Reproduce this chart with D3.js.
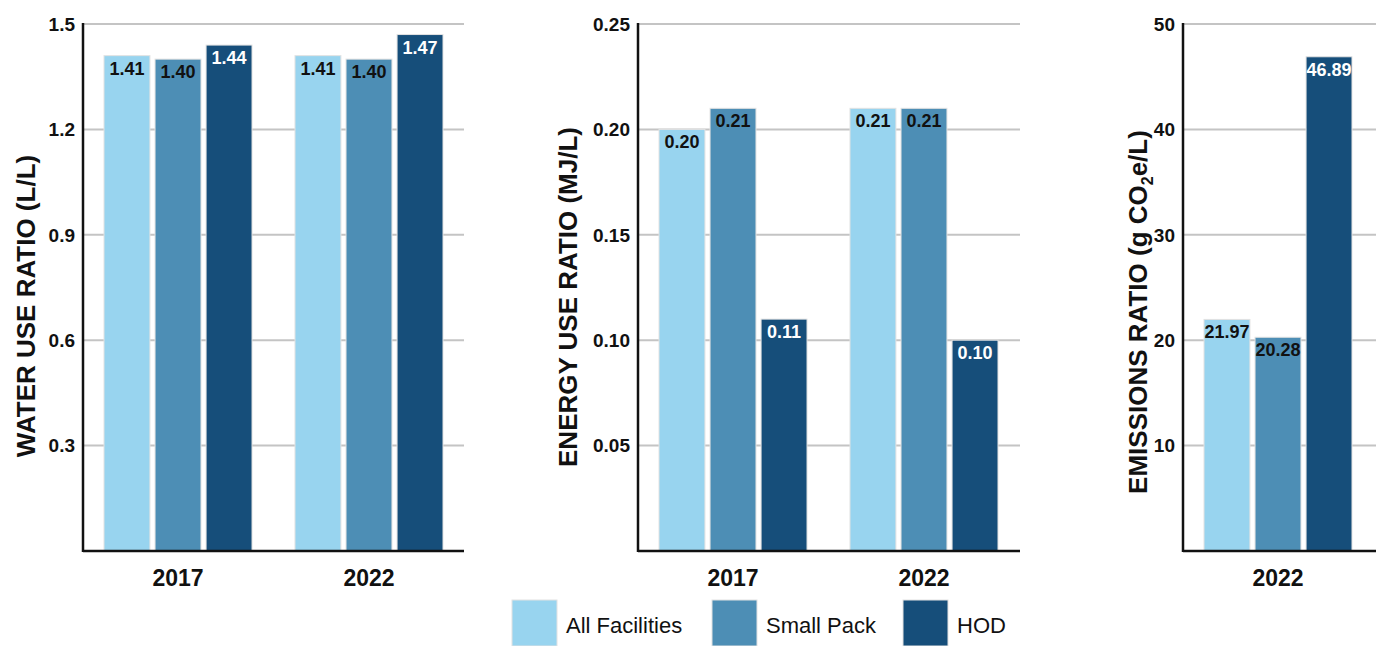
<!DOCTYPE html>
<html>
<head>
<meta charset="utf-8">
<script src="https://cdn.jsdelivr.net/npm/d3@7"></script>
<style>
  body { margin: 0; background: #fff; }
  text { font-family: "Liberation Sans", Arial, Helvetica, sans-serif; }
</style>
</head>
<body>
<svg id="chart" width="1376" height="646"></svg>
<script>
// series names + colours
const seriesNames = ['All Facilities', 'Small Pack', 'HOD'];
const seriesColors = ['#98d4ef', '#4d8eb5', '#164e7a'];
const labelColors = ['#111', '#111', '#fff'];

// water use ratio
const waterYears = ['2017', '2022'];
const water2017 = [1.41, 1.40, 1.44];
const water2022 = [1.41, 1.40, 1.47];
const waterTicks = [0.3, 0.6, 0.9, 1.2, 1.5];

// energy use ratio
const energyYears = ['2017', '2022'];
const energy2017 = [0.20, 0.21, 0.11];
const energy2022 = [0.21, 0.21, 0.10];
const energyTicks = [0.05, 0.10, 0.15, 0.20, 0.25];

// emissions ratio
const emisYears = ['2022'];
const emis2022 = [21.97, 20.28, 46.89];
const emisTicks = [10, 20, 30, 40, 50];

const svg = d3.select('#chart');
const plotTop = 24, plotBottom = 551;

function panel(opts) {
  const g = svg.append('g');
  const y = d3.scaleLinear().domain([0, opts.max]).range([plotBottom, plotTop]);
  const x0 = d3.scaleBand().domain(opts.years).range([opts.x0, opts.x1]).paddingInner(opts.padIn).paddingOuter(opts.padOut);
  const x1 = d3.scaleBand().domain(seriesNames).range([0, x0.bandwidth()]).paddingInner(0.1);

  // grid
  g.append('g').selectAll('line').data(opts.ticks).join('line')
    .attr('x1', opts.x0).attr('x2', opts.gridEnd)
    .attr('y1', d => y(d)).attr('y2', d => y(d))
    .attr('stroke', '#c4c4c4').attr('stroke-width', 2);

  // tick labels
  g.append('g').selectAll('text').data(opts.ticks).join('text')
    .attr('x', opts.x0 - 8).attr('y', d => y(d)).attr('dy', '0.36em')
    .attr('text-anchor', 'end')
    .attr('font-size', 19).attr('font-weight', 'bold').attr('fill', '#111')
    .text(d => opts.fmt(d));

  // bars
  const groups = g.append('g').selectAll('g').data(opts.years).join('g')
    .attr('transform', d => `translate(${x0(d)},0)`);
  groups.selectAll('rect').data((d, i) => opts.values[i].map((v, j) => ({ v, j })))
    .join('rect')
    .attr('x', d => x1(seriesNames[d.j]))
    .attr('width', x1.bandwidth())
    .attr('y', d => y(d.v))
    .attr('height', d => plotBottom - y(d.v))
    .attr('fill', d => seriesColors[d.j])
    .attr('stroke', '#e2e2e2').attr('stroke-width', 1);
  groups.selectAll('text').data((d, i) => opts.values[i].map((v, j) => ({ v, j })))
    .join('text')
    .attr('x', d => x1(seriesNames[d.j]) + x1.bandwidth() / 2)
    .attr('y', d => y(d.v) + 19)
    .attr('text-anchor', 'middle')
    .attr('font-size', 18).attr('font-weight', 'bold')
    .attr('fill', d => labelColors[d.j])
    .text(d => d.v.toFixed(2));

  // category labels
  g.append('g').selectAll('text').data(opts.years).join('text')
    .attr('x', d => x0(d) + x0.bandwidth() / 2).attr('y', 586)
    .attr('text-anchor', 'middle')
    .attr('font-size', 23).attr('font-weight', 'bold').attr('fill', '#111')
    .text(d => d);

  // axes lines
  g.append('line').attr('x1', opts.x0).attr('x2', opts.x0).attr('y1', plotTop - 1).attr('y2', plotBottom + 1)
    .attr('stroke', '#111').attr('stroke-width', 2.5);
  g.append('line').attr('x1', opts.x0).attr('x2', opts.gridEnd).attr('y1', plotBottom).attr('y2', plotBottom)
    .attr('stroke', '#111').attr('stroke-width', 2.5);

  // y title
  const t = g.append('text')
    .attr('transform', `translate(${opts.titleX},${opts.titleY}) rotate(-90)`)
    .attr('text-anchor', 'middle')
    .attr('font-size', 26).attr('font-weight', 'bold').attr('fill', '#111');
  opts.title(t);
}

panel({
  x0: 83, x1: 464, gridEnd: 464, max: 1.5, ticks: waterTicks,
  years: waterYears, values: [water2017, water2022],
  padIn: 0.225, padOut: 0.11,
  fmt: d3.format('.1f'),
  titleX: 35, titleY: 306,
  title: t => t.text('WATER USE RATIO (L/L)')
});

panel({
  x0: 638, x1: 1019, gridEnd: 1020, max: 0.25, ticks: energyTicks,
  years: energyYears, values: [energy2017, energy2022],
  padIn: 0.225, padOut: 0.11,
  fmt: d3.format('.2f'),
  titleX: 577, titleY: 297,
  title: t => t.text('ENERGY USE RATIO (MJ/L)')
});

panel({
  x0: 1183, x1: 1373, gridEnd: 1376, max: 50, ticks: emisTicks,
  years: emisYears, values: [emis2022],
  padIn: 0, padOut: 0.142,
  fmt: d3.format('d'),
  titleX: 1147, titleY: 312,
  title: t => {
    t.append('tspan').text('EMISSIONS RATIO (g CO');
    t.append('tspan').attr('font-size', 16).attr('dy', 6).text('2');
    t.append('tspan').attr('dy', -6).text('e/L)');
  }
});

// legend
const legendX = [512, 712, 903];
const leg = svg.append('g').selectAll('g').data(seriesNames).join('g')
  .attr('transform', (d, i) => `translate(${legendX[i]},600)`);
leg.append('rect').attr('width', 45).attr('height', 46)
  .attr('fill', (d, i) => seriesColors[i]).attr('stroke', '#e2e2e2');
leg.append('text').attr('x', 54).attr('y', 33)
  .attr('font-size', 22).attr('fill', '#111')
  .text(d => d);
</script>
</body>
</html>
